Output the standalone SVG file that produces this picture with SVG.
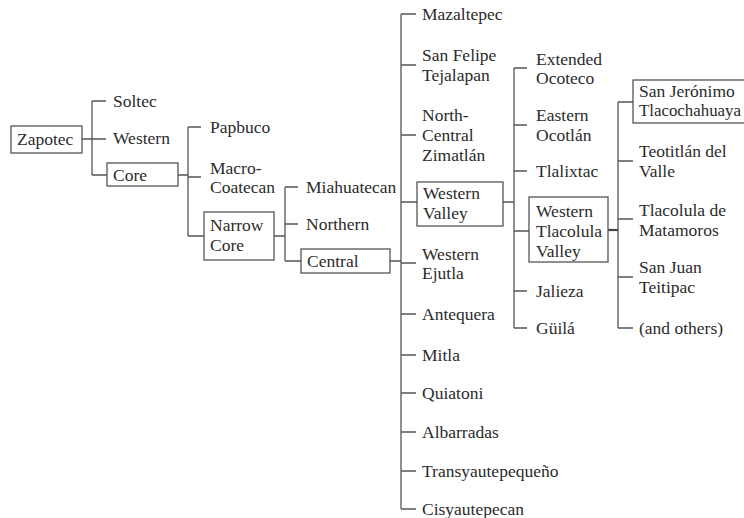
<svg xmlns="http://www.w3.org/2000/svg" width="744" height="518" viewBox="0 0 744 518">
<rect width="744" height="518" fill="#fff"/>
<g id="connectors" fill="none" stroke="#555" stroke-width="1.3">
<path d="M82 139H92M92 101V175M92 101H106M92 139H106M92 175H107"/>
<path d="M178 175H188M188 127V236M188 127H201M188 177H201M188 236H204"/>
<path d="M274 236H285M285 187V261M285 187H298M285 224H298M285 261H301"/>
<path d="M390 261H401M401 14V509M401 14H416M401 65H416M401 135H416M401 202H417M401 263H416M401 314H416M401 355H416M401 393H416M401 432H416M401 471H416M401 509H416"/>
<path d="M503 202H514M514 68V328M514 68H527M514 125H527M514 171H527M514 231H529M514 291H527M514 328H527"/>
<path d="M608 230H618" stroke="#444" stroke-width="2.2"/>
<path d="M618 102V328M618 102H633M618 161H633M618 219H633M618 277H633M618 328H633"/>
</g>
<g id="nodes" fill="#2b2b2b">
<g id="zapotec"><rect fill="#fff" stroke="#555" stroke-width="1.3" x="11" y="126" width="71" height="27"/><text style="font-family:'Liberation Serif',serif;font-size:17.5px" x="17" y="145">Zapotec</text></g>
<g id="soltec"><text style="font-family:'Liberation Serif',serif;font-size:17.5px" x="113" y="107">Soltec</text></g>
<g id="western"><text style="font-family:'Liberation Serif',serif;font-size:17.5px" x="113" y="144">Western</text></g>
<g id="core"><rect fill="#fff" stroke="#555" stroke-width="1.3" x="107" y="163" width="71" height="23"/><text style="font-family:'Liberation Serif',serif;font-size:17.5px" x="113" y="181">Core</text></g>
<g id="papbuco"><text style="font-family:'Liberation Serif',serif;font-size:17.5px" x="210" y="133">Papbuco</text></g>
<g id="macro-coatecan"><text style="font-family:'Liberation Serif',serif;font-size:17.5px" x="210" y="174">Macro-</text><text style="font-family:'Liberation Serif',serif;font-size:17.5px" x="210" y="193">Coatecan</text></g>
<g id="narrow-core"><rect fill="#fff" stroke="#555" stroke-width="1.3" x="204" y="212" width="70" height="48"/><text style="font-family:'Liberation Serif',serif;font-size:17.5px" x="210" y="231">Narrow</text><text style="font-family:'Liberation Serif',serif;font-size:17.5px" x="210" y="251">Core</text></g>
<g id="miahuatecan"><text style="font-family:'Liberation Serif',serif;font-size:17.5px" x="306" y="193">Miahuatecan</text></g>
<g id="northern"><text style="font-family:'Liberation Serif',serif;font-size:17.5px" x="306" y="230">Northern</text></g>
<g id="central"><rect fill="#fff" stroke="#555" stroke-width="1.3" x="301" y="249" width="89" height="24"/><text style="font-family:'Liberation Serif',serif;font-size:17.5px" x="307" y="267">Central</text></g>
<g id="mazaltepec"><text style="font-family:'Liberation Serif',serif;font-size:17.5px" x="422" y="20">Mazaltepec</text></g>
<g id="san-felipe"><text style="font-family:'Liberation Serif',serif;font-size:17.5px" x="422" y="61">San Felipe</text><text style="font-family:'Liberation Serif',serif;font-size:17.5px" x="422" y="81">Tejalapan</text></g>
<g id="north-central-zimatlan"><text style="font-family:'Liberation Serif',serif;font-size:17.5px" x="422" y="121">North-</text><text style="font-family:'Liberation Serif',serif;font-size:17.5px" x="422" y="141">Central</text><text style="font-family:'Liberation Serif',serif;font-size:17.5px" x="422" y="161">Zimatlán</text></g>
<g id="western-valley"><rect fill="#fff" stroke="#555" stroke-width="1.3" x="417" y="182" width="86" height="44"/><text style="font-family:'Liberation Serif',serif;font-size:17.5px" x="423" y="199">Western</text><text style="font-family:'Liberation Serif',serif;font-size:17.5px" x="423" y="219">Valley</text></g>
<g id="western-ejutla"><text style="font-family:'Liberation Serif',serif;font-size:17.5px" x="422" y="260">Western</text><text style="font-family:'Liberation Serif',serif;font-size:17.5px" x="422" y="279">Ejutla</text></g>
<g id="antequera"><text style="font-family:'Liberation Serif',serif;font-size:17.5px" x="422" y="320">Antequera</text></g>
<g id="mitla"><text style="font-family:'Liberation Serif',serif;font-size:17.5px" x="422" y="361">Mitla</text></g>
<g id="quiatoni"><text style="font-family:'Liberation Serif',serif;font-size:17.5px" x="422" y="399">Quiatoni</text></g>
<g id="albarradas"><text style="font-family:'Liberation Serif',serif;font-size:17.5px" x="422" y="438">Albarradas</text></g>
<g id="transyautepequeno"><text style="font-family:'Liberation Serif',serif;font-size:17.5px" x="422" y="477">Transyautepequeño</text></g>
<g id="cisyautepecan"><text style="font-family:'Liberation Serif',serif;font-size:17.5px" x="422" y="515">Cisyautepecan</text></g>
<g id="extended-ocoteco"><text style="font-family:'Liberation Serif',serif;font-size:17.5px" x="536" y="65">Extended</text><text style="font-family:'Liberation Serif',serif;font-size:17.5px" x="536" y="84">Ocoteco</text></g>
<g id="eastern-ocotlan"><text style="font-family:'Liberation Serif',serif;font-size:17.5px" x="536" y="121">Eastern</text><text style="font-family:'Liberation Serif',serif;font-size:17.5px" x="536" y="141">Ocotlán</text></g>
<g id="tlalixtac"><text style="font-family:'Liberation Serif',serif;font-size:17.5px" x="536" y="177">Tlalixtac</text></g>
<g id="western-tlacolula-valley"><rect fill="#fff" stroke="#555" stroke-width="1.3" x="529" y="197" width="79" height="65"/><text style="font-family:'Liberation Serif',serif;font-size:17.5px" x="536" y="217">Western</text><text style="font-family:'Liberation Serif',serif;font-size:17.5px" x="536" y="237">Tlacolula</text><text style="font-family:'Liberation Serif',serif;font-size:17.5px" x="536" y="257">Valley</text></g>
<g id="jalieza"><text style="font-family:'Liberation Serif',serif;font-size:17.5px" x="536" y="297">Jalieza</text></g>
<g id="guila"><text style="font-family:'Liberation Serif',serif;font-size:17.5px" x="536" y="334">Güilá</text></g>
<g id="san-jeronimo"><rect fill="#fff" stroke="#555" stroke-width="1.3" x="633" y="80" width="115" height="43"/><text style="font-family:'Liberation Serif',serif;font-size:17.5px" x="639" y="97">San Jerónimo</text><text style="font-family:'Liberation Serif',serif;font-size:17.5px" x="639" y="116" textLength="102" lengthAdjust="spacingAndGlyphs">Tlacochahuaya</text></g>
<g id="teotitlan"><text style="font-family:'Liberation Serif',serif;font-size:17.5px" x="639" y="157">Teotitlán del</text><text style="font-family:'Liberation Serif',serif;font-size:17.5px" x="639" y="177">Valle</text></g>
<g id="tlacolula-de-matamoros"><text style="font-family:'Liberation Serif',serif;font-size:17.5px" x="639" y="216">Tlacolula de</text><text style="font-family:'Liberation Serif',serif;font-size:17.5px" x="639" y="236">Matamoros</text></g>
<g id="san-juan-teitipac"><text style="font-family:'Liberation Serif',serif;font-size:17.5px" x="639" y="273">San Juan</text><text style="font-family:'Liberation Serif',serif;font-size:17.5px" x="639" y="293">Teitipac</text></g>
<g id="and-others"><text style="font-family:'Liberation Serif',serif;font-size:17.5px" x="639" y="334">(and others)</text></g>
</g>
</svg>
